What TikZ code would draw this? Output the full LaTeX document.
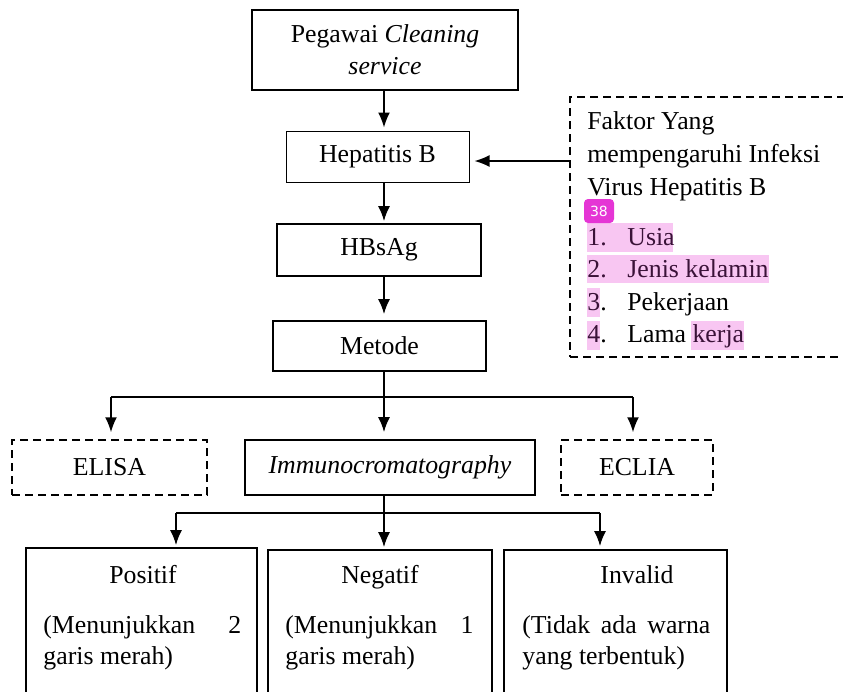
\documentclass[tikz,border=0pt]{standalone}
\usepackage{fontspec}
\setmainfont{Liberation Serif}
\newfontfamily\badgefont{DejaVu Sans}
\usetikzlibrary{arrows.meta}
\definecolor{hl}{HTML}{F8C6F2}
\definecolor{badgecol}{HTML}{E535D5}
\definecolor{hltext}{HTML}{3A1238}
\begin{document}
\begin{tikzpicture}[x=0.5pt,y=-0.5pt,
  font=\fontsize{12.9}{16}\selectfont,
  box/.style={draw, line width=0.9pt, inner sep=0pt, align=center},
  dbox/.style={box, line width=0.75pt, dash pattern=on 4pt off 2.5pt},
  arr/.style={line width=0.8pt, -{Latex[length=7.5pt,width=6pt]}},
  ln/.style={line width=0.8pt},
  txt/.style={inner sep=0pt, anchor=base west},
  ttl/.style={inner sep=0pt, anchor=base}]
\useasboundingbox (0,0) rectangle (843,692);

% main column
\node[box, line width=1.2pt, minimum width=133pt, minimum height=40pt] (top) at (385,50) {Pegawai \textit{Cleaning}\\\textit{service}};
\node[box, line width=0.5pt, minimum width=91.5pt, minimum height=25.5pt] (hep) at (377.5,156.5) {Hepatitis B};
\node[box, minimum width=102pt, minimum height=26pt] (hbs) at (379,250) {HBsAg};
\node[box, minimum width=106.5pt, minimum height=25pt] (met) at (379.5,346) {Metode};
\node[dbox, minimum width=97.5pt, minimum height=27.5pt] (elisa) at (109.5,467.5) {ELISA};
\node[box, minimum width=145pt, minimum height=27.5pt] (imm) at (390,467.5) {\textit{Immunocromatography}};
\node[dbox, minimum width=76pt, minimum height=27.5pt] (eclia) at (637,467.5) {ECLIA};

% bottom boxes
\node[box, minimum width=115.5pt, minimum height=86pt] (pos) at (141.5,634) {};
\node[box, minimum width=112pt, minimum height=85pt] (neg) at (380,635) {};
\node[box, minimum width=111.5pt, minimum height=85pt] (inv) at (615.5,635) {};
\node[ttl] (post) at (143,583) {Positif};
\node[ttl] (negt) at (380,583) {Negatif};
\node[ttl] (invt) at (637,583) {Invalid};
\node[txt] (pos1) at (43,633) {\hbox to 99pt{(Menunjukkan\hfill 2}};
\node[txt] (pos2) at (43,664) {garis merah)};
\node[txt] (neg1) at (285,633) {\hbox to 94pt{(Menunjukkan\hfill 1}};
\node[txt] (neg2) at (285,664) {garis merah)};
\node[txt] (inv1) at (522,633) {\hbox to 94pt{(Tidak\hfill ada\hfill warna}};
\node[txt] (inv2) at (522,664) {yang terbentuk)};

% factor box
\node[dbox, minimum width=150pt, minimum height=130pt] (fac) at (720,227) {};
\fill[hl] (587,223) rectangle (673,252);
\fill[hl] (587,255) rectangle (769,283);
\fill[hl] (587,288) rectangle (600,317);
\fill[hl] (587,321) rectangle (600,350);
\fill[hl] (691,321) rectangle (744,350);
\node[txt] (f1) at (587,129.5) {Faktor Yang};
\node[txt] (f2) at (587,162.5) {mempengaruhi Infeksi};
\node[txt] (f3) at (587,195) {Virus Hepatitis B};
\node[fill=badgecol, rounded corners=2pt, inner sep=0pt, minimum width=15pt, minimum height=12pt, text=white, font=\badgefont\fontsize{7}{8}\selectfont] (badge) at (599,211) {38};
\node[txt, text=hltext] (n1) at (587,245) {1.};
\node[txt, text=hltext] (i1) at (627,245) {Usia};
\node[txt, text=hltext] (n2) at (587,277) {2.};
\node[txt, text=hltext] (i2) at (627,277) {Jenis kelamin};
\node[txt] (n3) at (587,310) {{\color{hltext}3}.};
\node[txt] (i3) at (627,310) {Pekerjaan};
\node[txt] (n4) at (587,342) {{\color{hltext}4}.};
\node[txt] (i4) at (627,342) {Lama {\color{hltext}kerja}};

% connectors
\coordinate (cx) at (384,0);
\draw[arr, shorten >=1.5pt] (top.south -| cx) -- (hep.north -| cx);
\draw[arr, shorten >=1pt] (hep.south -| cx) -- (hbs.north -| cx);
\draw[arr, shorten >=3pt] (hbs.south -| cx) -- (met.north -| cx);
\draw[arr, shorten >=3.5pt] (met.south -| cx) -- (imm.north -| cx);
\coordinate (jl) at (111,397);
\coordinate (jr) at (633,397);
\draw[ln] (jl) -- (jr);
\draw[arr, shorten >=3.5pt] (jl) -- (jl |- elisa.north);
\draw[arr, shorten >=3.5pt] (jr) -- (jr |- eclia.north);
\coordinate (kl) at (176,513);
\coordinate (kr) at (600,513);
\draw[ln] (kl) -- (kr);
\draw[arr, shorten >=1pt] (imm.south -| cx) -- (neg.north -| cx);
\draw[arr, shorten >=1pt] (kl) -- (kl |- pos.north);
\draw[arr, shorten >=1.5pt] (kr) -- (kr |- inv.north);
\coordinate (ya) at (0,161);
\draw[arr, shorten >=2.5pt] (fac.west |- ya) -- (hep.east |- ya);
\end{tikzpicture}
\end{document}
